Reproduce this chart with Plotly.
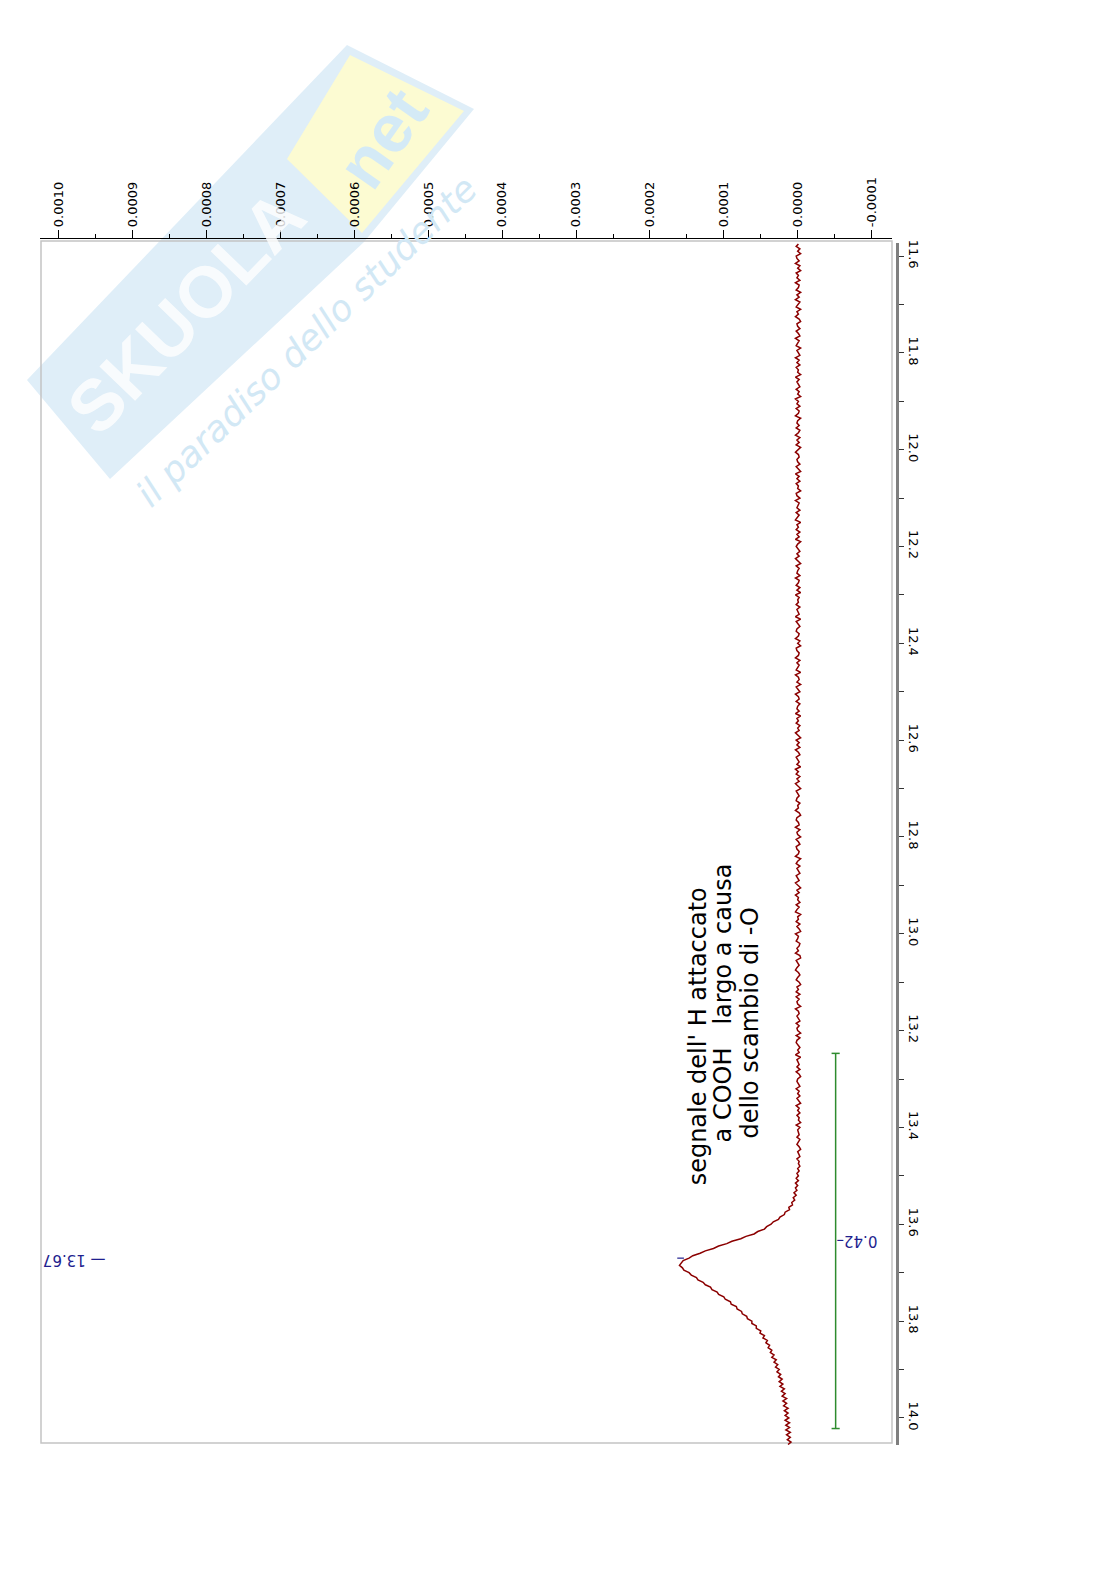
import numpy as np
import plotly.graph_objects as go

# spettro 1H, zona 11.6 - 14.0 ppm (intensita' in unita' di 1e-6)
shift_ppm = [
    11.575, 11.580, 11.585, 11.590, 11.595, 11.600, 11.605, 11.610, 11.615, 11.620,
    11.625, 11.630, 11.635, 11.640, 11.645, 11.650, 11.655, 11.660, 11.665, 11.670,
    11.675, 11.680, 11.685, 11.690, 11.695, 11.700, 11.705, 11.710, 11.715, 11.720,
    11.725, 11.730, 11.735, 11.740, 11.745, 11.750, 11.755, 11.760, 11.765, 11.770,
    11.775, 11.780, 11.785, 11.790, 11.795, 11.800, 11.805, 11.810, 11.815, 11.820,
    11.825, 11.830, 11.835, 11.840, 11.845, 11.850, 11.855, 11.860, 11.865, 11.870,
    11.875, 11.880, 11.885, 11.890, 11.895, 11.900, 11.905, 11.910, 11.915, 11.920,
    11.925, 11.930, 11.935, 11.940, 11.945, 11.950, 11.955, 11.960, 11.965, 11.970,
    11.975, 11.980, 11.985, 11.990, 11.995, 12.000, 12.005, 12.010, 12.015, 12.020,
    12.025, 12.030, 12.035, 12.040, 12.045, 12.050, 12.055, 12.060, 12.065, 12.070,
    12.075, 12.080, 12.085, 12.090, 12.095, 12.100, 12.105, 12.110, 12.115, 12.120,
    12.125, 12.130, 12.135, 12.140, 12.145, 12.150, 12.155, 12.160, 12.165, 12.170,
    12.175, 12.180, 12.185, 12.190, 12.195, 12.200, 12.205, 12.210, 12.215, 12.220,
    12.225, 12.230, 12.235, 12.240, 12.245, 12.250, 12.255, 12.260, 12.265, 12.270,
    12.275, 12.280, 12.285, 12.290, 12.295, 12.300, 12.305, 12.310, 12.315, 12.320,
    12.325, 12.330, 12.335, 12.340, 12.345, 12.350, 12.355, 12.360, 12.365, 12.370,
    12.375, 12.380, 12.385, 12.390, 12.395, 12.400, 12.405, 12.410, 12.415, 12.420,
    12.425, 12.430, 12.435, 12.440, 12.445, 12.450, 12.455, 12.460, 12.465, 12.470,
    12.475, 12.480, 12.485, 12.490, 12.495, 12.500, 12.505, 12.510, 12.515, 12.520,
    12.525, 12.530, 12.535, 12.540, 12.545, 12.550, 12.555, 12.560, 12.565, 12.570,
    12.575, 12.580, 12.585, 12.590, 12.595, 12.600, 12.605, 12.610, 12.615, 12.620,
    12.625, 12.630, 12.635, 12.640, 12.645, 12.650, 12.655, 12.660, 12.665, 12.670,
    12.675, 12.680, 12.685, 12.690, 12.695, 12.700, 12.705, 12.710, 12.715, 12.720,
    12.725, 12.730, 12.735, 12.740, 12.745, 12.750, 12.755, 12.760, 12.765, 12.770,
    12.775, 12.780, 12.785, 12.790, 12.795, 12.800, 12.805, 12.810, 12.815, 12.820,
    12.825, 12.830, 12.835, 12.840, 12.845, 12.850, 12.855, 12.860, 12.865, 12.870,
    12.875, 12.880, 12.885, 12.890, 12.895, 12.900, 12.905, 12.910, 12.915, 12.920,
    12.925, 12.930, 12.935, 12.940, 12.945, 12.950, 12.955, 12.960, 12.965, 12.970,
    12.975, 12.980, 12.985, 12.990, 12.995, 13.000, 13.005, 13.010, 13.015, 13.020,
    13.025, 13.030, 13.035, 13.040, 13.045, 13.050, 13.055, 13.060, 13.065, 13.070,
    13.075, 13.080, 13.085, 13.090, 13.095, 13.100, 13.105, 13.110, 13.115, 13.120,
    13.125, 13.130, 13.135, 13.140, 13.145, 13.150, 13.155, 13.160, 13.165, 13.170,
    13.175, 13.180, 13.185, 13.190, 13.195, 13.200, 13.205, 13.210, 13.215, 13.220,
    13.225, 13.230, 13.235, 13.240, 13.245, 13.250, 13.255, 13.260, 13.265, 13.270,
    13.275, 13.280, 13.285, 13.290, 13.295, 13.300, 13.305, 13.310, 13.315, 13.320,
    13.325, 13.330, 13.335, 13.340, 13.345, 13.350, 13.355, 13.360, 13.365, 13.370,
    13.375, 13.380, 13.385, 13.390, 13.395, 13.400, 13.405, 13.410, 13.415, 13.420,
    13.425, 13.430, 13.435, 13.440, 13.445, 13.450, 13.455, 13.460, 13.465, 13.470,
    13.475, 13.480, 13.485, 13.490, 13.495, 13.500, 13.505, 13.510, 13.515, 13.520,
    13.525, 13.530, 13.535, 13.540, 13.545, 13.550, 13.555, 13.560, 13.565, 13.570,
    13.575, 13.580, 13.585, 13.590, 13.595, 13.600, 13.605, 13.610, 13.615, 13.620,
    13.625, 13.630, 13.635, 13.640, 13.645, 13.650, 13.655, 13.660, 13.665, 13.670,
    13.675, 13.680, 13.685, 13.690, 13.695, 13.700, 13.705, 13.710, 13.715, 13.720,
    13.725, 13.730, 13.735, 13.740, 13.745, 13.750, 13.755, 13.760, 13.765, 13.770,
    13.775, 13.780, 13.785, 13.790, 13.795, 13.800, 13.805, 13.810, 13.815, 13.820,
    13.825, 13.830, 13.835, 13.840, 13.845, 13.850, 13.855, 13.860, 13.865, 13.870,
    13.875, 13.880, 13.885, 13.890, 13.895, 13.900, 13.905, 13.910, 13.915, 13.920,
    13.925, 13.930, 13.935, 13.940, 13.945, 13.950, 13.955, 13.960, 13.965, 13.970,
    13.975, 13.980, 13.985, 13.990, 13.995, 14.000, 14.005, 14.010, 14.015, 14.020,
    14.025, 14.030, 14.035, 14.040, 14.045, 14.050, 14.055,
]
intensity_u = [
    -1, 2, -3, 0, -4, 2, 1, -2, 3, -3,
    0, -4, 2, -1, 1, -3, 3, -2, -1, 2,
    -4, 1, -2, 3, -3, 0, 2, -4, 1, -1,
    3, -2, -4, 1, 0, -3, 2, -1, -3, 3,
    -2, 0, 2, -4, 1, -1, -3, 3, -2, 1,
    -3, 2, -1, 0, -4, 3, -2, 1, -1, -3,
    2, -2, 0, -4, 3, -1, 1, -3, 2, -2,
    -1, 3, -4, 0, 1, -2, 2, -3, -1, 3,
    -3, 1, -2, 2, -4, 0, 3, -1, -2, 1,
    0, -3, 2, -1, -4, 3, -2, 1, -3, 2,
    -1, 0, -4, 2, 1, -3, 3, -2, -1, 1,
    -3, 2, -2, 0, 3, -4, 1, -1, 2, -3,
    1, -2, 3, -4, 0, 2, -1, -3, 1, -2,
    3, -1, -4, 2, -2, 0, 1, -3, 3, -2,
    -1, 2, -3, 1, -4, 3, -2, 0, -1, 2,
    -3, 1, 0, -2, 3, -4, 2, -1, -3, 1,
    2, -2, -1, 3, -3, 0, -4, 2, 1, -2,
    -1, 3, -3, 1, -2, 0, 2, -4, 3, -1,
    -2, 1, -4, 2, 0, -3, 3, -1, -2, 2,
    -3, 0, 1, -2, 3, -4, 1, -1, 2, -3,
    0, -2, 3, -1, -4, 2, -2, 1, -3, 3,
    -1, -3, 2, 0, -2, 1, -4, 3, -1, 2,
    -3, 1, -2, 3, -1, -4, 2, 0, -2, 1,
    2, -3, 0, -1, 3, -2, -4, 1, 2, -1,
    -2, 3, -3, 1, 0, -4, 2, -1, -3, 2,
    1, -2, -1, 3, -4, 0, 2, -3, 1, -1,
    -3, 2, 0, -2, 3, -1, -4, 1, -2, 3,
    -1, 0, -3, 2, -2, 1, 3, -4, 0, -1,
    2, -3, 1, -2, -4, 3, -1, 0, 2, -3,
    -2, 1, -1, 3, -3, -4, 2, 0, -2, 1,
    3, -1, -3, 0, 2, -2, -4, 1, -1, 2,
    -3, 2, -2, 1, 0, -4, 3, -1, -2, 1,
    -1, -3, 2, -2, 1, 0, -4, 2, -3, 1,
    2, -1, -3, 0, -2, 3, -4, 1, -1, -2,
    1, -3, 2, -2, -4, 0, 1, -1, -3, 2,
    -2, 0, -3, 1, -1, -4, 2, -2, 0, -3,
    1, -2, -1, -4, 2, -3, 0, -1, -2, 1,
    -3, -1, 1, -2, -4, 0, -1, -3, 1, -2,
    -1, -3, 0, -2, 1, -1, 2, -1, 3, 0,
    3, 1, 5, 2, 6, 4, 8, 7, 12, 11,
    17, 18, 24, 26, 33, 36, 42, 45, 54, 59,
    70, 77, 89, 96, 107, 114, 125, 132, 142, 147,
    155, 158, 160, 156, 154, 147, 144, 137, 135, 128,
    125, 118, 116, 109, 107, 100, 98, 91, 90, 83,
    82, 76, 75, 69, 68, 62, 62, 56, 56, 50,
    51, 45, 47, 41, 43, 38, 40, 35, 37, 32,
    35, 29, 32, 27, 30, 25, 28, 23, 26, 21,
    25, 20, 24, 18, 22, 17, 21, 15, 20, 15,
    19, 13, 18, 13, 17, 12, 17, 11, 16, 11,
    16, 10, 15, 10, 14, 9, 13,
]

x_tickvals = [0.0010, 0.0009, 0.0008, 0.0007, 0.0006, 0.0005,
              0.0004, 0.0003, 0.0002, 0.0001, 0.0000, -0.0001]
x_ticktext = ['0.0010', '0.0009', '0.0008', '0.0007', '0.0006', '0.0005',
              '0.0004', '0.0003', '0.0002', '0.0001', '0.0000', '-0.0001']
x_minor = [0.00095, 0.00085, 0.00075, 0.00065, 0.00055, 0.00045,
           0.00035, 0.00025, 0.00015, 0.00005, -0.00005]
y_tickvals = [11.6, 11.8, 12.0, 12.2, 12.4, 12.6, 12.8, 13.0, 13.2, 13.4, 13.6, 13.8, 14.0]
y_ticktext = ['11.6', '11.8', '12.0', '12.2', '12.4', '12.6', '12.8',
              '13.0', '13.2', '13.4', '13.6', '13.8', '14.0']
y_minor = [11.7, 11.9, 12.1, 12.3, 12.5, 12.7, 12.9, 13.1, 13.3, 13.5, 13.7, 13.9]

peak_ppm = 13.67
peak_label = '13.67'
integral_range = [13.247, 14.022]
integral_value = '0.42'

nota = ["segnale dell' H attaccato", "a COOH   largo a causa", "dello scambio di -O"]

intensity = np.array(intensity_u) * 1e-6

# area del grafico in pixel della pagina (il body html ha 8px di margine)
L, R, T, B = 40, 897, 238, 1445
OFF = 8
W, H = 1116 - 2 * OFF, 1579 - 2 * OFF


def px(x, y):
    # pixel pagina -> coordinate paper (solo per decorazioni)
    return (x - L) / (R - L), (B - y) / (B - T)


def path(points):
    s = ''
    for i, (x, y) in enumerate(points):
        u, v = px(x, y)
        s += ('M' if i == 0 else 'L') + f'{u:.4f},{v:.4f} '
    return s + 'Z'


fig = go.Figure()

fig.add_trace(go.Scatter(
    x=intensity,
    y=shift_ppm,
    mode='lines',
    line=dict(color='#8b0000', width=1.5),
    hoverinfo='skip',
))

# watermark
fig.add_shape(type='path', xref='paper', yref='paper', layer='below',
              path=path([(27, 380), (347, 45), (474, 109), (364, 242), (110, 479)]),
              fillcolor='#dfeef8', line=dict(width=0))
fig.add_shape(type='path', xref='paper', yref='paper', layer='below',
              path=path([(350, 55), (464, 111), (362, 233), (287, 159)]),
              fillcolor='#fcfbd2', line=dict(width=0))

# cornice dell'area
bx0, by1 = px(41, 241)
bx1, by0 = px(892, 1443)
fig.add_shape(type='rect', xref='paper', yref='paper', layer='below',
              x0=bx0, x1=bx1, y0=by0, y1=by1,
              line=dict(color='#c4c4c4', width=1.5))

# integrale
int_x = -0.0000514
cap = 0.0000055
green = '#2e8b2e'
fig.add_shape(type='line', x0=int_x, x1=int_x, y0=integral_range[0], y1=integral_range[1],
              line=dict(color=green, width=1.5))
for yy in integral_range:
    fig.add_shape(type='line', x0=int_x - cap, x1=int_x + cap, y0=yy, y1=yy,
                  line=dict(color=green, width=1.5))

blue = '#1f1f8f'
peak_x = intensity.max()
fig.add_shape(type='line', x0=peak_x + 0.000003, x1=peak_x - 0.000006, y0=peak_ppm, y1=peak_ppm,
              line=dict(color=blue, width=1.2))

center = dict(xanchor='center', yanchor='middle', showarrow=False)

fig.add_annotation(x=-0.0000799, y=(integral_range[0] + integral_range[1]) / 2,
                   text=integral_value + '\u2013', textangle=180, **center,
                   font=dict(family='DejaVu Sans', size=15, color=blue))
fig.add_annotation(x=0.00098, y=peak_ppm + 0.004,
                   text='\u2014 ' + peak_label, textangle=180, **center,
                   font=dict(family='DejaVu Sans', size=15, color=blue))

# nota scritta a mano
for txt, xx, yy in zip(nota, [0.0001354, 0.0001015, 0.000065], [13.2126, 13.1424, 13.1837]):
    fig.add_annotation(x=xx, y=yy, text=txt, textangle=-90, **center,
                       font=dict(family='DejaVu Sans', size=24, color='black'))

# testi del watermark
u, v = px(186, 312)
fig.add_annotation(x=u, y=v, xref='paper', yref='paper', text='<b>SKUOLA</b>', textangle=-46,
                   opacity=0.8, **center,
                   font=dict(family='Liberation Sans', size=72, color='white'))
u, v = px(382, 138)
fig.add_annotation(x=u, y=v, xref='paper', yref='paper', text='<b>net</b>', textangle=-55,
                   **center, font=dict(family='Liberation Sans', size=68, color='#d4eaf6'))
u, v = px(306, 341)
fig.add_annotation(x=u, y=v, xref='paper', yref='paper', text='<i>il paradiso dello studente</i>',
                   textangle=-44, **center,
                   font=dict(family='DejaVu Sans', size=36, color='#d2e8f5'))

fig.update_layout(
    width=W, height=H,
    autosize=False,
    margin=dict(l=L - OFF, r=W - (R - OFF), t=T - OFF, b=H - (B - OFF), pad=0),
    paper_bgcolor='white',
    plot_bgcolor='rgba(0,0,0,0)',
    showlegend=False,
    xaxis=dict(
        range=[0.0010257, -0.0001277],
        domain=[0, (892 - L) / (R - L)],
        side='top', anchor='free', position=1,
        showline=True, linecolor='black', linewidth=1.3,
        ticks='outside', ticklen=8, tickwidth=1, tickcolor='black',
        tickmode='array', tickvals=x_tickvals, ticktext=x_ticktext,
        tickangle=-90,
        tickfont=dict(family='DejaVu Sans', size=13, color='black'),
        minor=dict(tickmode='array', tickvals=x_minor, ticks='outside', ticklen=4,
                   tickcolor='black', tickwidth=1),
        showgrid=False, zeroline=False,
    ),
    yaxis=dict(
        range=[14.056, 11.573],
        domain=[0, (B - 243) / (B - T)],
        side='right', anchor='free', position=1,
        showline=True, linecolor='#7f7f7f', linewidth=3,
        ticks='outside', ticklen=5, tickwidth=1, tickcolor='#333333',
        tickmode='array', tickvals=y_tickvals, ticktext=y_ticktext,
        tickangle=90,
        tickfont=dict(family='DejaVu Sans', size=13, color='black'),
        minor=dict(tickmode='array', tickvals=y_minor, ticks='outside', ticklen=5,
                   tickcolor='#333333', tickwidth=1),
        showgrid=False, zeroline=False,
    ),
)

fig.write_html("out.html")
